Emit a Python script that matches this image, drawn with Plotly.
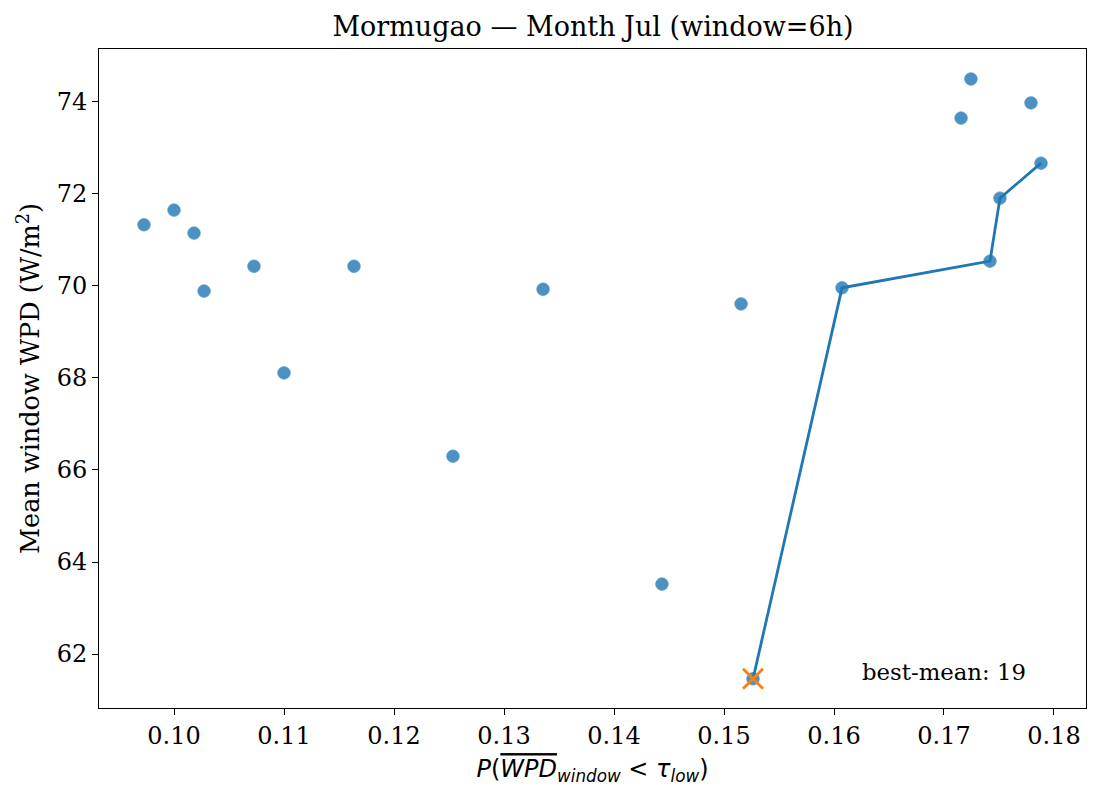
import plotly.graph_objects as go

# Data
p_low = [0.09727, 0.1000, 0.10182, 0.10273, 0.10727, 0.1100, 0.11636, 0.12536,
         0.13355, 0.14436, 0.15155, 0.15264, 0.16073, 0.17155, 0.17245, 0.17418,
         0.17509, 0.17791, 0.17882]
mean_wpd = [71.33, 71.65, 71.15, 69.89, 70.43, 68.11, 70.43, 66.30,
            69.93, 63.52, 69.61, 61.46, 69.96, 73.65, 74.50, 70.54,
            71.91, 73.98, 72.67]

front_x = [0.15264, 0.16073, 0.17418, 0.17509, 0.17882]
front_y = [61.46, 69.96, 70.54, 71.91, 72.67]

best_x = [0.15264]
best_y = [61.46]
best_label = "best-mean: 19"

x_ticks = [0.10, 0.11, 0.12, 0.13, 0.14, 0.15, 0.16, 0.17, 0.18]
y_ticks = [62, 64, 66, 68, 70, 72, 74]

blue = "#1f77b4"
orange = "#ff7f0e"
serif = "DejaVu Serif"

fig = go.Figure()
fig.add_trace(go.Scatter(x=p_low, y=mean_wpd, mode="markers",
                         marker=dict(color=blue, size=12.5, opacity=0.8,
                                     line=dict(width=0.8, color=blue)),
                         showlegend=False))
fig.add_trace(go.Scatter(x=front_x, y=front_y, mode="lines",
                         line=dict(color=blue, width=2.8), showlegend=False))
fig.add_trace(go.Scatter(x=best_x, y=best_y, mode="markers",
                         marker=dict(symbol="x-thin", size=20, color=orange,
                                     line=dict(color=orange, width=2.8)),
                         showlegend=False))

fig.add_annotation(x=0.16237, y=61.61, text=best_label, showarrow=False,
                   xanchor="left", yanchor="middle",
                   font=dict(family=serif, size=22.8, color="black"))

axis_common = dict(showline=True, linecolor="black", linewidth=1, mirror=True,
                   ticks="outside", ticklen=6, tickcolor="black", showgrid=False,
                   zeroline=False, tickfont=dict(family=serif, size=24, color="black"))

fig.update_xaxes(range=[0.09318, 0.18291], tickvals=x_ticks,
                 ticktext=[f"{v:.2f}" for v in x_ticks],
                 title=dict(text="<i>P</i>(<span style=\"text-decoration:overline\"><i>WPD</i></span><sub><i>window</i></sub> &lt; <i>τ</i><sub><i>low</i></sub>)",
                            font=dict(family="DejaVu Sans", size=24, color="black"), standoff=11),
                 **axis_common)
fig.update_yaxes(range=[60.826, 75.152], tickvals=y_ticks,
                 ticktext=[str(v) for v in y_ticks],
                 title=dict(text="Mean window WPD (W/m<sup>2</sup>)",
                            font=dict(family=serif, size=25.5, color="black"), standoff=9),
                 **axis_common)

fig.update_layout(
    width=1101, height=801,
    margin=dict(l=99, r=15, t=49, b=93),
    plot_bgcolor="white", paper_bgcolor="white",
    title=dict(text="Mormugao — Month Jul (window=6h)", x=0.5386, xanchor="center",
               y=1 - 27 / 801, yanchor="middle",
               font=dict(family=serif, size=27, color="black")),
)

fig.write_html("out.html")
